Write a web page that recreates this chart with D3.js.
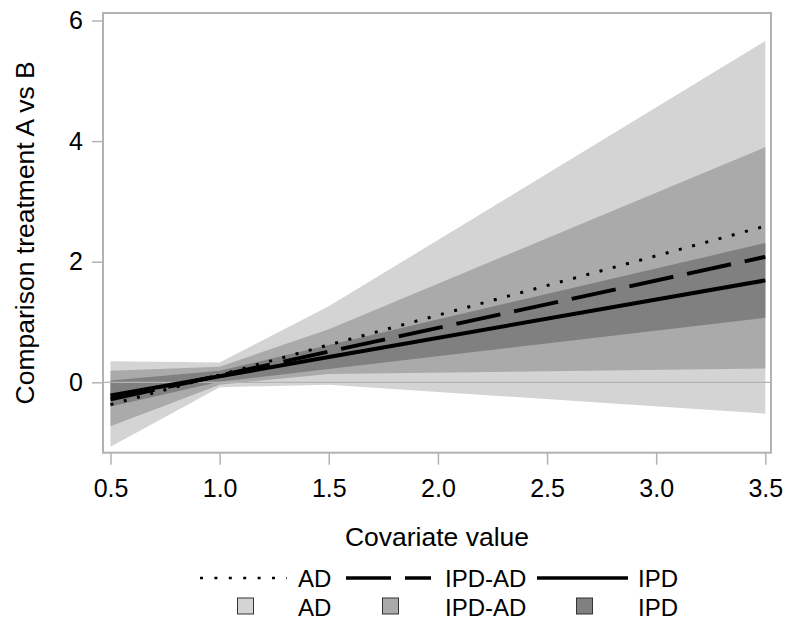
<!DOCTYPE html>
<html>
<head>
<meta charset="utf-8">
<script src="https://cdn.jsdelivr.net/npm/d3@7/dist/d3.min.js"></script>
<style>
  body { margin: 0; background: white; }
  text { font-family: Arial, "Liberation Sans", sans-serif; fill: #000; }
</style>
</head>
<body>
<svg id="canvas" width="785" height="621"></svg>
<script>
// ************************************************************************************** //
// Data

var covariate = [0.5, 1.0, 1.5, 3.5];

var ad_est     = [-0.37, 0.12, 0.62, 2.59];
var ad_lo      = [-1.07, -0.08, -0.04, -0.52];
var ad_hi      = [0.35, 0.33, 1.26, 5.66];

var ipdad_est  = [-0.28, 0.11, 0.51, 2.08];
var ipdad_lo   = [-0.73, -0.04, 0.14, 0.23];
var ipdad_hi   = [0.19, 0.26, 0.88, 3.90];

var ipd_est    = [-0.22, 0.10, 0.42, 1.69];
var ipd_lo     = [-0.40, 0.01, 0.22, 1.07];
var ipd_hi     = [0.03, 0.19, 0.62, 2.31];

var x_ticks = [0.5, 1.0, 1.5, 2.0, 2.5, 3.0, 3.5];
var y_ticks = [0, 2, 4, 6];
var legend_labels = ['AD', 'IPD-AD', 'IPD'];

// ************************************************************************************** //
// Layout

var plot = { left: 103, right: 771, top: 13, bottom: 452.7 };
var band_fill = ['#d4d4d4', '#aaaaaa', '#808080'];
var frame_col = '#b2b2b2';

var x = d3.scaleLinear().domain([0.4656, 3.526]).range([plot.left, plot.right]);
var y = d3.scaleLinear().domain([-1.167, 6.124]).range([plot.bottom, plot.top]);

var svg = d3.select('#canvas');

// ************************************************************************************** //
// Bands

var bands = [
  { lo: ad_lo, hi: ad_hi },
  { lo: ipdad_lo, hi: ipdad_hi },
  { lo: ipd_lo, hi: ipd_hi }
];

var area = d3.area()
  .x(function(d){ return x(d.x); })
  .y0(function(d){ return y(d.lo); })
  .y1(function(d){ return y(d.hi); });

bands.forEach(function(b, i){
  var pts = covariate.map(function(c, j){ return { x: c, lo: b.lo[j], hi: b.hi[j] }; });
  svg.append('path').attr('d', area(pts)).attr('fill', band_fill[i]);
});

// zero reference line
svg.append('line')
  .attr('x1', plot.left).attr('x2', plot.right)
  .attr('y1', y(0)).attr('y2', y(0))
  .attr('stroke', frame_col).attr('stroke-width', 1.2);

// ************************************************************************************** //
// Lines

var line = d3.line()
  .x(function(d){ return x(d.x); })
  .y(function(d){ return y(d.v); });

var series = [
  { est: ad_est, dash: '3,10.7', width: 3 },
  { est: ipdad_est, dash: '45,14', width: 4 },
  { est: ipd_est, dash: null, width: 4 }
];

series.forEach(function(s){
  var pts = covariate.map(function(c, j){ return { x: c, v: s.est[j] }; });
  svg.append('path').attr('d', line(pts))
    .attr('fill', 'none').attr('stroke', '#000')
    .attr('stroke-width', s.width)
    .attr('stroke-dasharray', s.dash);
});

// ************************************************************************************** //
// Frame + axes

svg.append('rect')
  .attr('x', plot.left).attr('y', plot.top)
  .attr('width', plot.right - plot.left).attr('height', plot.bottom - plot.top)
  .attr('fill', 'none').attr('stroke', frame_col).attr('stroke-width', 2);

var y_axis = svg.append('g').attr('transform', 'translate(' + plot.left + ',0)')
  .call(d3.axisLeft(y).tickValues(y_ticks).tickFormat(d3.format('d')).tickSize(11).tickPadding(9));

var x_axis = svg.append('g').attr('transform', 'translate(0,' + plot.bottom + ')')
  .call(d3.axisBottom(x).tickValues(x_ticks).tickFormat(d3.format('.1f')).tickSize(12).tickPadding(15));

[y_axis, x_axis].forEach(function(a){
  a.select('.domain').remove();
  a.selectAll('.tick line').attr('stroke', frame_col).attr('stroke-width', 1.5);
  a.selectAll('.tick text').style('font-size', '25px').style('font-family', 'Arial, "Liberation Sans", sans-serif').attr('fill', '#000');
});

svg.append('text')
  .attr('x', (plot.left + plot.right) / 2).attr('y', 546)
  .attr('text-anchor', 'middle').style('font-size', '26.5px')
  .text('Covariate value');

svg.append('text')
  .attr('transform', 'translate(34,' + ((plot.top + plot.bottom) / 2) + ') rotate(-90)')
  .attr('text-anchor', 'middle').style('font-size', '26.5px')
  .text('Comparison treatment A vs B');

// ************************************************************************************** //
// Legend

var key_x = [200, 346, 537];
var key_w = [87, 85, 91];
var label_x = [298, 445, 638];
var row1 = 578, row2 = 606;

legend_labels.forEach(function(lab, i){
  svg.append('line')
    .attr('x1', key_x[i]).attr('x2', key_x[i] + key_w[i])
    .attr('y1', row1).attr('y2', row1)
    .attr('stroke', '#000').attr('stroke-width', series[i].width - 0.5)
    .attr('stroke-dasharray', i == 0 ? '3,11.4' : series[i].dash);
  svg.append('text').attr('x', label_x[i]).attr('y', row1 + 8.5)
    .style('font-size', '24px').text(lab);

  var cx = key_x[i] + key_w[i] / 2 + 2;
  svg.append('rect')
    .attr('x', cx - 8).attr('y', row2 - 8).attr('width', 16).attr('height', 16)
    .attr('fill', band_fill[i]).attr('stroke', '#333').attr('stroke-width', 1);
  svg.append('text').attr('x', label_x[i]).attr('y', row2 + 10)
    .style('font-size', '24px').text(lab);
});
</script>
</body>
</html>
